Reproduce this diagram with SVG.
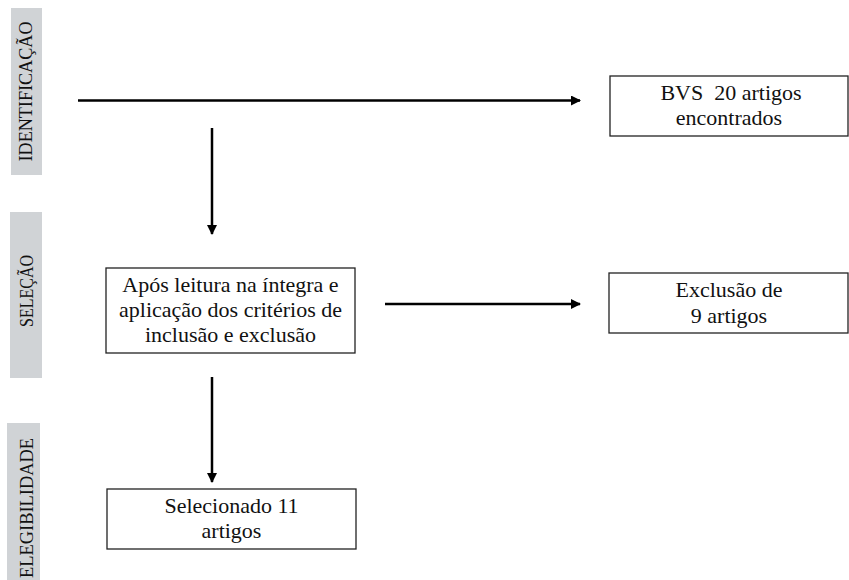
<svg xmlns="http://www.w3.org/2000/svg" width="849" height="580" viewBox="0 0 849 580">
<style>
.box{fill:#fff;stroke:#222;stroke-width:1.3}
.t{font-size:22px;fill:#111;text-anchor:middle}
.bar{fill:#d0d3d6}
.v{font-size:19px;fill:#111;text-anchor:middle}
.c{stroke:#000;stroke-width:2.5;fill:none}
</style>
<defs>
<marker id="ah" viewBox="0 0 10 10" refX="9" refY="5" markerWidth="4" markerHeight="4" orient="auto" markerUnits="strokeWidth">
<path d="M0,0 L10,5 L0,10 z" fill="#000"/>
</marker>
</defs>
<g font-family="Liberation Serif, Times New Roman, serif">
<g id="stage-identificacao">
<rect class="bar" x="11" y="8" width="31" height="167"/>
<text class="v" transform="translate(32,91.5) rotate(-90)" textLength="140" lengthAdjust="spacingAndGlyphs">IDENTIFICAÇÃO</text>
</g>
<g id="stage-selecao">
<rect class="bar" x="10" y="212" width="32" height="166"/>
<text class="v" transform="translate(33,291) rotate(-90)" textLength="72" lengthAdjust="spacingAndGlyphs">SELEÇÃO</text>
</g>
<g id="stage-elegibilidade">
<rect class="bar" x="7" y="423" width="33" height="157"/>
<text class="v" transform="translate(33,508) rotate(-90)" textLength="140" lengthAdjust="spacingAndGlyphs">ELEGIBILIDADE</text>
</g>
<g id="connectors">
<line class="c" x1="78" y1="100.5" x2="580" y2="100.5" marker-end="url(#ah)"/>
<line class="c" x1="212" y1="128" x2="212" y2="234" marker-end="url(#ah)"/>
<line class="c" x1="385" y1="304" x2="580" y2="304" marker-end="url(#ah)"/>
<line class="c" x1="212" y1="377" x2="212" y2="482" marker-end="url(#ah)"/>
</g>
<g id="node-bvs">
<rect class="box" x="610" y="76" width="238" height="60"/>
<text class="t" x="731" y="100">BVS&#160; 20 artigos</text>
<text class="t" x="729" y="125">encontrados</text>
</g>
<g id="node-apos">
<rect class="box" x="106" y="268" width="249" height="85"/>
<text class="t" x="230.5" y="292">Após leitura na íntegra e</text>
<text class="t" x="230.5" y="317">aplicação dos critérios de</text>
<text class="t" x="230.5" y="342">inclusão e exclusão</text>
</g>
<g id="node-exclusao">
<rect class="box" x="609" y="273" width="239" height="60"/>
<text class="t" x="729" y="297">Exclusão de</text>
<text class="t" x="729" y="323">9 artigos</text>
</g>
<g id="node-selecionado">
<rect class="box" x="107" y="489" width="249" height="60"/>
<text class="t" x="231.5" y="513">Selecionado 11</text>
<text class="t" x="231.5" y="538">artigos</text>
</g>
</g>
</svg>
